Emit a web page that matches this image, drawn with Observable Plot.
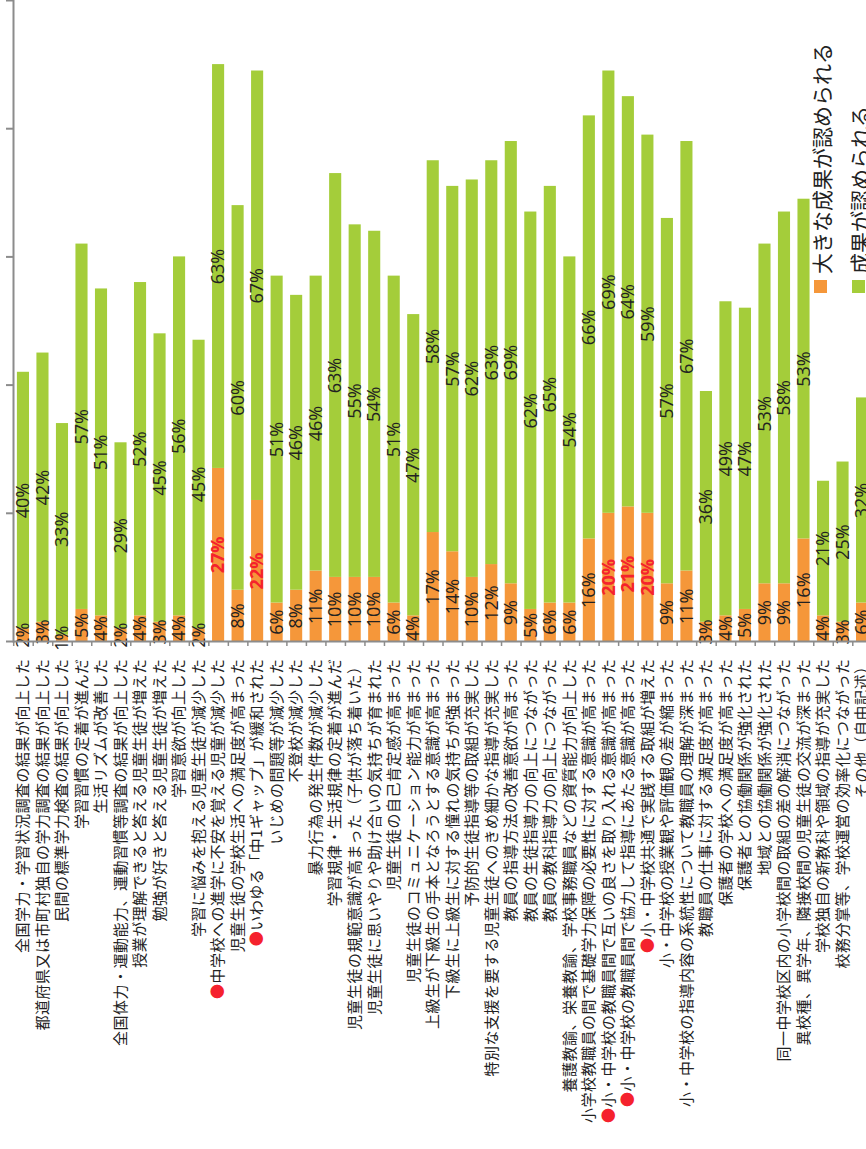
<!DOCTYPE html>
<html>
<head>
<meta charset="utf-8">
<script src="https://cdn.jsdelivr.net/npm/d3@7"></script>
<script src="https://cdn.jsdelivr.net/npm/@observablehq/plot@0.6"></script>
<style>
html, body { margin: 0; padding: 0; background: #fff; overflow: hidden; }
#wrap { position: relative; width: 866px; height: 1149px; overflow: hidden; }
#wrap svg { max-width: none !important; }
#legend { position: absolute; left: 808px; top: 293px; transform-origin: 0 0; transform: rotate(-90deg);
  font-family: "Noto Sans CJK JP"; font-size: 21px; color: #222; white-space: nowrap; }
#legend .row { position: absolute; left: 0; height: 25px; display: flex; align-items: center; }
#legend .sw { width: 13px; height: 13px; margin-right: 6px; flex: none; }
</style>
</head>
<body>
<div id="wrap"></div>
<script>
// ---- data ----
const categories = [
  "全国学力・学習状況調査の結果が向上した",
  "都道府県又は市町村独自の学力調査の結果が向上した",
  "民間の標準学力検査の結果が向上した",
  "学習習慣の定着が進んだ",
  "生活リズムが改善した",
  "全国体力・運動能力、運動習慣等調査の結果が向上した",
  "授業が理解できると答える児童生徒が増えた",
  "勉強が好きと答える児童生徒が増えた",
  "学習意欲が向上した",
  "学習に悩みを抱える児童生徒が減少した",
  "●中学校への進学に不安を覚える児童が減少した",
  "児童生徒の学校生活への満足度が高まった",
  "●いわゆる「中1ギャップ」が緩和された",
  "いじめの問題等が減少した",
  "不登校が減少した",
  "暴力行為の発生件数が減少した",
  "学習規律・生活規律の定着が進んだ",
  "児童生徒の規範意識が高まった（子供が落ち着いた）",
  "児童生徒に思いやりや助け合いの気持ちが育まれた",
  "児童生徒の自己肯定感が高まった",
  "児童生徒のコミュニケーション能力が高まった",
  "上級生が下級生の手本となろうとする意識が高まった",
  "下級生に上級生に対する憧れの気持ちが強まった",
  "予防的生徒指導等の取組が充実した",
  "特別な支援を要する児童生徒へのきめ細かな指導が充実した",
  "教員の指導方法の改善意欲が高まった",
  "教員の生徒指導力の向上につながった",
  "教員の教科指導力の向上につながった",
  "養護教諭、栄養教諭、学校事務職員などの資質能力が向上した",
  "小学校教職員の間で基礎学力保障の必要性に対する意識が高まった",
  "●小・中学校の教職員間で互いの良さを取り入れる意識が高まった",
  "●小・中学校の教職員間で協力して指導にあたる意識が高まった",
  "●小・中学校共通で実践する取組が増えた",
  "小・中学校の授業観や評価観の差が縮まった",
  "小・中学校の指導内容の系統性について教職員の理解が深まった",
  "教職員の仕事に対する満足度が高まった",
  "保護者の学校への満足度が高まった",
  "保護者との協働関係が強化された",
  "地域との協働関係が強化された",
  "同一中学校区内の小学校間の取組の差の解消につながった",
  "異校種、異学年、隣接校間の児童生徒の交流が深まった",
  "学校独自の新教科や領域の指導が充実した",
  "校務分掌等、学校運営の効率化につながった",
  "その他（自由記述）"
];
const largeEffect = [2,3,1,5,4,2,4,3,4,2,27,8,22,6,8,11,10,10,10,6,4,17,14,10,12,9,5,6,6,16,20,21,20,9,11,3,4,5,9,9,16,4,3,6];
const someEffect  = [40,42,33,57,51,29,52,45,56,45,63,60,67,51,46,46,63,55,54,51,47,58,57,62,63,69,62,65,54,66,69,64,59,57,67,36,49,47,53,58,53,21,25,32];
const seriesNames = ["大きな成果が認められる", "成果が認められる"];
const seriesColors = ["#f5973a", "#a4cd3a"];
const yTicks = [0, 20, 40, 60, 80, 100];

// ---- table ----
const rows = categories.flatMap((c, i) => {
  const a = largeEffect[i], b = someEffect[i];
  const emph = c.startsWith("●");
  return [
    {cat: c, series: seriesNames[0], y1: 0, y2: a, mid: a / 2, label: a + "%", emph: emph},
    {cat: c, series: seriesNames[1], y1: a, y2: a + b, mid: a + b / 2, label: b + "%", emph: false}
  ];
});

const W = 872, H = 1149, ML = 13, MB = 508, MT = 0;
const padIn = 0.38, padOut = 0.2;
const step = (W - ML) / (categories.length - padIn + 2 * padOut);
const gray = "#8c8c8c";

const chart = Plot.plot({
  width: W, height: H,
  marginLeft: ML, marginRight: 0, marginTop: MT, marginBottom: MB,
  style: {fontFamily: "Noto Sans CJK JP", fontSize: "15px", color: "#222", background: "transparent", overflow: "visible", maxWidth: "none"},
  x: {type: "band", domain: categories, paddingInner: padIn, paddingOuter: padOut, align: 0.5, round: false, axis: null},
  y: {domain: [0, 100], axis: null},
  color: {domain: seriesNames, range: seriesColors},
  marks: [
    Plot.barY(rows, {x: "cat", y1: "y1", y2: "y2", fill: "series"}),
    Plot.text(rows.filter(d => !d.emph), {x: "cat", y: "mid", text: "label", rotate: -90,
      fontFamily: "Open Sans", fontSize: 18, fill: "#222"}),
    Plot.text(rows.filter(d => d.emph), {x: "cat", y: "mid", text: "label", rotate: -90,
      fontFamily: "Open Sans", fontSize: 18, fontWeight: "bold", fill: "#f5222d"}),
    Plot.axisY({ticks: yTicks, tickSize: 7, tickFormat: () => "", stroke: gray, strokeWidth: 2, label: null}),
    Plot.frame({anchor: "left", stroke: gray, strokeWidth: 2}),
    Plot.ruleY([0], {stroke: gray, strokeWidth: 2}),
    Plot.axisX({tickSize: 5, tickFormat: () => "", stroke: gray, strokeWidth: 1.5, dx: -step / 2, label: null}),
    Plot.axisX({tickSize: 0, tickPadding: 17, tickRotate: -90, fill: "#222", fontSize: 15, label: null})
  ]
});

document.getElementById("wrap").appendChild(chart);

// red bullets + letter spacing on category labels
d3.select(chart).selectAll('g[aria-label="x-axis tick label"] text').each(function () {
  const t = d3.select(this);
  t.style("letter-spacing", "0.5px");
  const s = t.text();
  if (s.startsWith("●")) {
    t.text("");
    t.append("tspan").attr("fill", "#f5222d").text("●");
    t.append("tspan").text(s.slice(1));
  }
});

// legend
const legend = d3.select("#wrap").append("div").attr("id", "legend");
seriesNames.forEach((name, i) => {
  const row = legend.append("div").attr("class", "row").style("top", (i * 38) + "px");
  row.append("div").attr("class", "sw").style("background", seriesColors[i]);
  row.append("span").text(name);
});
</script>
</body>
</html>
